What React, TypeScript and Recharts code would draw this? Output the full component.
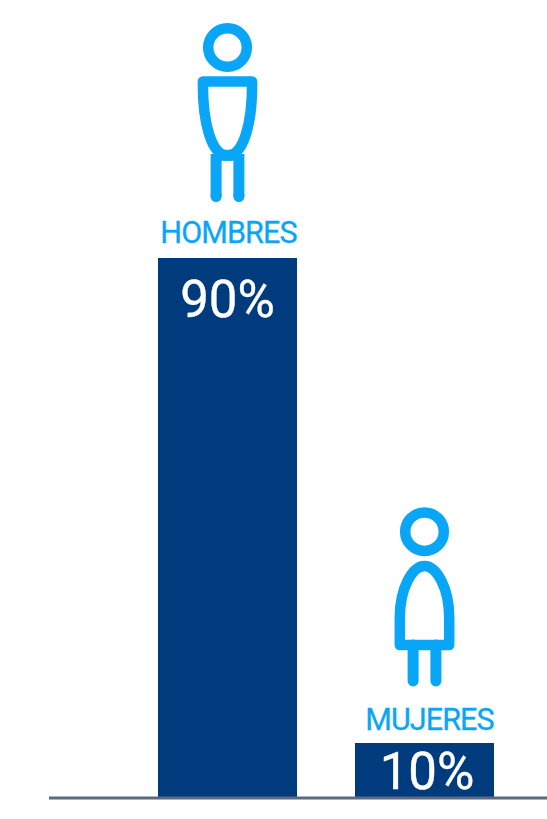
import React from "react";
import { BarChart, Bar, XAxis, YAxis, LabelList } from "recharts";

const categories = ["HOMBRES", "MUJERES"];
const percentLabels = ["90%", "10%"];
// bar heights (the short bar is drawn a bit under its label)
const barValues = [90, 9.17];

const chartData = categories.map((name, i) => ({
  name,
  value: barValues[i],
  label: percentLabels[i],
}));

const NAVY = "#003b7d";
const SKY = "#09a5f6";
const FONT = "Roboto, sans-serif";

const Man = ({ cx, top }: any) => (
  <g transform={`translate(${cx},${top})`} fill="none" stroke={SKY} strokeWidth={10.5} strokeLinecap="round" strokeLinejoin="round">
    <circle cx={0} cy={-210.5} r={19.3} />
    <path d="M-24.6,-176.5 L24.6,-176.5 C25,-135 16,-102.5 0,-102.5 C-16,-102.5 -25,-135 -24.6,-176.5 Z" />
    <path d="M-11.4,-104 L-11.4,-61.5 M11.4,-104 L11.4,-61.5 M-11.4,-102.7 L11.4,-102.7" strokeWidth={11} strokeLinecap="butt" />
    <path d="M-11.4,-62.5 L-11.4,-61.5 M11.4,-62.5 L11.4,-61.5" strokeWidth={11} />
  </g>
);

const Woman = ({ cx, top }: any) => (
  <g transform={`translate(${cx},${top})`} fill="none" stroke={SKY} strokeWidth={10.5} strokeLinecap="round" strokeLinejoin="round">
    <circle cx={0} cy={-211.3} r={19.3} />
    <path d="M-24.7,-98 L24.7,-98 L24.7,-125 C24.7,-155 12,-177 0,-177 C-12,-177 -24.7,-155 -24.7,-125 Z" />
    <path d="M-11.4,-98 L-11.4,-62 M11.4,-98 L11.4,-62" strokeWidth={11} />
  </g>
);

const BarDecor = (props: any) => {
  const { x, y, width, index } = props;
  const cx = x + width / 2;
  const isMan = index === 0;
  return (
    <g>
      {isMan ? <Man cx={cx} top={y} /> : <Woman cx={cx} top={y} />}
      <text
        x={cx + (isMan ? 1 : 5)}
        y={y + (isMan ? -15 : -12.5)}
        textAnchor="middle"
        fill={SKY}
        stroke={SKY}
        strokeWidth={0.3}
        fontFamily={FONT}
        fontSize={30.5}
        letterSpacing={-0.9}
      >
        {categories[index]}
      </text>
      <text
        x={cx + (isMan ? 0 : 2.5)}
        y={y + (isMan ? 58.5 : 46)}
        textAnchor="middle"
        fill="#ffffff"
        stroke="#ffffff"
        strokeWidth={0.4}
        fontFamily={FONT}
        fontSize={51}
      >
        {percentLabels[index]}
      </text>
    </g>
  );
};

export default function App() {
  return (
    <div style={{ position: "absolute", left: 0, top: 0, width: 547, height: 819, background: "#fff" }}>
      <BarChart
        width={547}
        height={819}
        data={chartData}
        margin={{ top: 198, right: 0, bottom: 20, left: 49 }}
        barCategoryGap={0}
      >
        <XAxis
          dataKey="name"
          height={1}
          tick={false}
          tickLine={false}
          padding={{ left: 80, right: 24 }}
          axisLine={{ stroke: "#5b6a80", strokeWidth: 3 }}
        />
        <YAxis hide domain={[0, 100]} />
        <Bar dataKey="value" fill={NAVY} barSize={139} isAnimationActive={false}>
          <LabelList dataKey="label" content={BarDecor} />
        </Bar>
      </BarChart>
    </div>
  );
}
